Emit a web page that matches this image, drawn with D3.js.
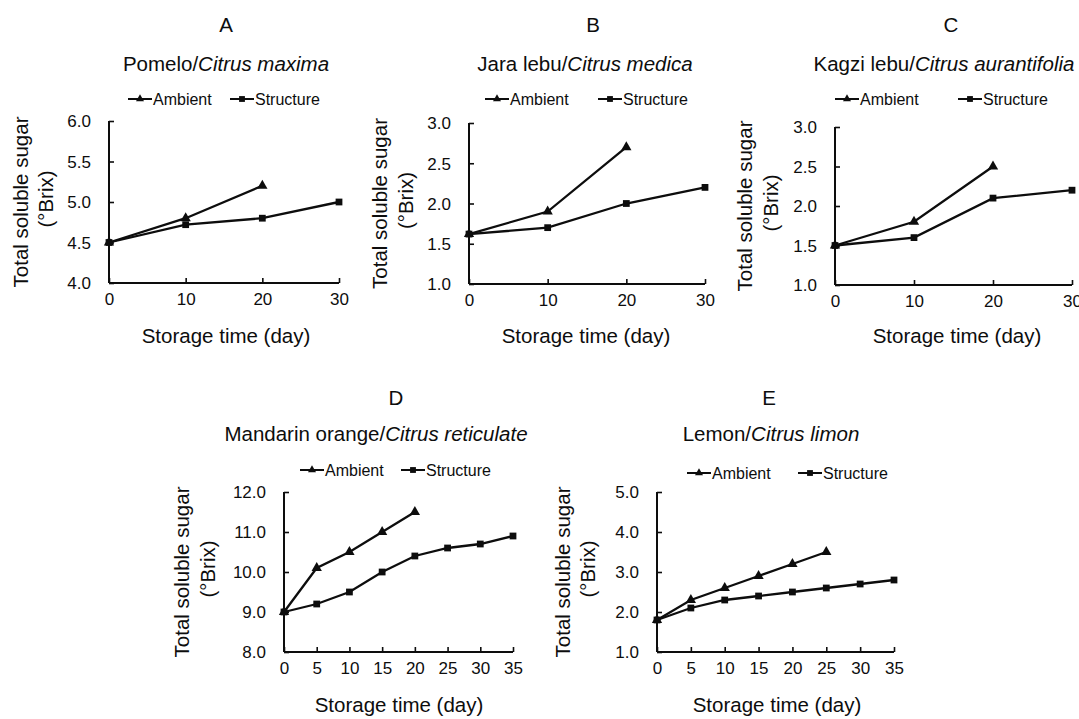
<!DOCTYPE html>
<html>
<head>
<meta charset="utf-8">
<script src="https://cdn.jsdelivr.net/npm/d3@7"></script>
<style>
  html, body { margin: 0; padding: 0; background: #fff; }
  svg { display: block; font-family: "Liberation Sans", Arial, sans-serif; }
</style>
</head>
<body>
<svg id="chart" width="1079" height="719"></svg>
<script>
// ---------- DATA ----------
const panelLetters = ["A", "B", "C", "D", "E"];
const commonNames = ["Pomelo", "Jara lebu", "Kagzi lebu", "Mandarin orange", "Lemon"];
const scientificNames = ["Citrus maxima", "Citrus medica", "Citrus aurantifolia", "Citrus reticulate", "Citrus limon"];
const seriesNames = ["Ambient", "Structure"];

const daysTop = [0, 10, 20, 30];
const daysBottom = [0, 5, 10, 15, 20, 25, 30, 35];

const ambientA = [4.5, 4.8, 5.2];
const structureA = [4.5, 4.72, 4.8, 5.0];
const ambientB = [1.62, 1.9, 2.7];
const structureB = [1.62, 1.7, 2.0, 2.2];
const ambientC = [1.5, 1.8, 2.5];
const structureC = [1.5, 1.6, 2.1, 2.2];
const ambientD = [9.0, 10.1, 10.5, 11.0, 11.5];
const structureD = [9.0, 9.2, 9.5, 10.0, 10.4, 10.6, 10.7, 10.9];
const ambientE = [1.8, 2.3, 2.6, 2.9, 3.2, 3.5];
const structureE = [1.8, 2.1, 2.3, 2.4, 2.5, 2.6, 2.7, 2.8];

const yTicksA = [4.0, 4.5, 5.0, 5.5, 6.0];
const yTicksBC = [1.0, 1.5, 2.0, 2.5, 3.0];
const yTicksD = [8.0, 9.0, 10.0, 11.0, 12.0];
const yTicksE = [1.0, 2.0, 3.0, 4.0, 5.0];

const yLabelLine1 = "Total soluble sugar";
const yLabelLine2 = "(\u00B0Brix)";
const xLabel = "Storage time (day)";

// ---------- LAYOUT ----------
const layout = [
  { x0: 109, x1: 339, yT: 121, yB: 283, tX: 226, tY: 32, sX: 226, sY: 71, lY: 99, lA: 128, lS: 230, yl1: 28, yl2: 53, xlX: 226, xlY: 343 },
  { x0: 469, x1: 705, yT: 123, yB: 284, tX: 593, tY: 32, sX: 585, sY: 71, lY: 99, lA: 485, lS: 598, yl1: 387, yl2: 413, xlX: 586, xlY: 343 },
  { x0: 835, x1: 1072, yT: 127, yB: 285, tX: 951, tY: 32, sX: 944, sY: 71, lY: 99, lA: 835, lS: 958, yl1: 752, yl2: 778, xlX: 957, xlY: 343 },
  { x0: 284, x1: 513, yT: 492, yB: 652, tX: 396, tY: 405, sX: 376, sY: 441, lY: 470, lA: 300, lS: 401, yl1: 189, yl2: 215, xlX: 399, xlY: 712 },
  { x0: 657, x1: 894, yT: 492, yB: 652, tX: 769, tY: 405, sX: 771, sY: 441, lY: 473, lA: 687, lS: 798, yl1: 570, yl2: 595, xlX: 777, xlY: 712 }
];

const panels = [
  { days: daysTop, amb: ambientA, str: structureA, yTicks: yTicksA },
  { days: daysTop, amb: ambientB, str: structureB, yTicks: yTicksBC },
  { days: daysTop, amb: ambientC, str: structureC, yTicks: yTicksBC },
  { days: daysBottom, amb: ambientD, str: structureD, yTicks: yTicksD },
  { days: daysBottom, amb: ambientE, str: structureE, yTicks: yTicksE }
];

const ink = "#0d0d0d";
const svg = d3.select("#chart");

panels.forEach((p, i) => {
  const L = layout[i];
  const g = svg.append("g");
  const x = d3.scaleLinear().domain([0, d3.max(p.days)]).range([L.x0, L.x1]);
  const y = d3.scaleLinear().domain([d3.min(p.yTicks), d3.max(p.yTicks)]).range([L.yB, L.yT]);

  // axes
  const xAxis = d3.axisBottom(x).tickValues(p.days).tickSize(-5).tickPadding(10).tickFormat(d3.format("d"));
  const yAxis = d3.axisLeft(y).tickValues(p.yTicks).tickSize(-5).tickPadding(18).tickFormat(d3.format(".1f"));

  const gx = g.append("g").attr("transform", `translate(0,${L.yB})`).call(xAxis);
  const gy = g.append("g").attr("transform", `translate(${L.x0},0)`).call(yAxis);
  [gx, gy].forEach(a => {
    a.select(".domain").attr("stroke", ink).attr("stroke-width", 2);
    a.selectAll(".tick line").attr("stroke", ink).attr("stroke-width", 1.6);
    a.selectAll(".tick text").attr("fill", ink).style("font-size", "17px")
      .style("font-family", '"Liberation Sans", Arial, sans-serif');
  });
  gx.select(".domain").attr("d", `M${L.x0},0H${L.x1}`);
  gy.select(".domain").attr("d", `M0,${L.yB}V${L.yT}`);
  gx.selectAll(".tick text").attr("dy", "0.71em");
  gy.selectAll(".tick text").attr("dy", "0.34em");

  // lines
  const line = d3.line().x((d, j) => x(p.days[j])).y(d => y(d));
  g.append("path").attr("d", line(p.amb)).attr("fill", "none").attr("stroke", ink).attr("stroke-width", 2.3);
  g.append("path").attr("d", line(p.str)).attr("fill", "none").attr("stroke", ink).attr("stroke-width", 2.3);

  const tri = d3.symbol().type(d3.symbolTriangle).size(46);
  const sq = d3.symbol().type(d3.symbolSquare).size(46);
  g.selectAll(".amb").data(p.amb).enter().append("path")
    .attr("d", tri).attr("fill", ink)
    .attr("transform", (d, j) => `translate(${x(p.days[j])},${y(d)})`);
  g.selectAll(".str").data(p.str).enter().append("path")
    .attr("d", sq).attr("fill", ink)
    .attr("transform", (d, j) => `translate(${x(p.days[j])},${y(d)})`);

  // title & subtitle
  g.append("text").attr("x", L.tX).attr("y", L.tY).attr("text-anchor", "middle")
    .style("font-size", "20.5px").attr("fill", ink).text(panelLetters[i]);
  const st = g.append("text").attr("x", L.sX).attr("y", L.sY).attr("text-anchor", "middle")
    .style("font-size", "20.5px").attr("fill", ink);
  st.append("tspan").text(commonNames[i] + "/");
  st.append("tspan").style("font-style", "italic").text(scientificNames[i]);

  // legend
  const legSym = [d3.symbol().type(d3.symbolTriangle).size(28), d3.symbol().type(d3.symbolSquare).size(34)];
  [L.lA, L.lS].forEach((lx, k) => {
    g.append("line").attr("x1", lx).attr("x2", lx + 24).attr("y1", L.lY).attr("y2", L.lY)
      .attr("stroke", ink).attr("stroke-width", 2);
    g.append("path").attr("d", legSym[k]()).attr("fill", ink)
      .attr("transform", `translate(${lx + 12},${L.lY})`);
    g.append("text").attr("x", lx + 25).attr("y", L.lY + 6).style("font-size", "16px")
      .attr("fill", ink).text(seriesNames[k]);
  });

  // axis titles
  const cy = (L.yT + L.yB) / 2;
  g.append("text").attr("transform", `translate(${L.yl1},${cy}) rotate(-90)`).attr("text-anchor", "middle")
    .style("font-size", "20.5px").attr("fill", ink).text(yLabelLine1);
  g.append("text").attr("transform", `translate(${L.yl2},${cy - 3}) rotate(-90)`).attr("text-anchor", "middle")
    .style("font-size", "20.5px").attr("fill", ink).text(yLabelLine2);
  g.append("text").attr("x", L.xlX).attr("y", L.xlY).attr("text-anchor", "middle")
    .style("font-size", "20.5px").attr("fill", ink).text(xLabel);
});
</script>
</body>
</html>
